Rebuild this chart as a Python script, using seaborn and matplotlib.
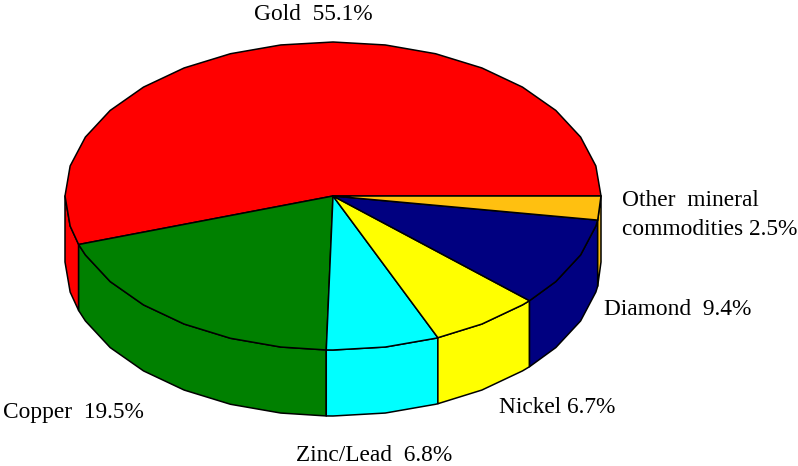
import numpy as np
import matplotlib.pyplot as plt
import seaborn as sns

labels = ["Gold  55.1%", "Copper  19.5%", "Zinc/Lead  6.8%", "Nickel 6.7%", "Diamond  9.4%",
          "Other  mineral\ncommodities 2.5%"]
shares = [55.1, 19.5, 6.8, 6.7, 9.4, 2.5]
colors = ["#ff0000", "#008000", "#00ffff", "#ffff00", "#000080", "#ffc010"]

sns.set_theme(style="white")
plt.rcParams["font.family"] = ["Liberation Serif", "DejaVu Serif"]
palette = sns.color_palette(colors)

# pie geometry in picture pixels
cx, cy = 333, 196
rx, ry = 268, 154
depth = 66
facet = 11.25

# text anchors, left edge and baseline
label_pos = [(254, 20), (3, 418), (296, 461), (499, 413), (604, 315), (622, 235)]

fig = plt.figure(figsize=(7.98, 4.66), dpi=100)
ax = fig.add_axes([0, 0, 1, 1])
ax.set_xlim(0, 798)
ax.set_ylim(466, 0)
ax.axis("off")


def arc(a0, a1):
    inner = np.arange(np.ceil(a0 / facet + 1e-6), np.floor(a1 / facet - 1e-6) + 1) * facet
    deg = np.concatenate([[a0], inner, [a1]])
    t = np.radians(deg)
    return cx + rx * np.cos(t), cy + ry * np.sin(t)


edges = np.cumsum([0] + shares) * 360 / sum(shares)
# y grows downward, so go round the other way to run counter-clockwise on screen
spans = [(360 - b, 360 - a) for a, b in zip(edges[:-1], edges[1:])]

# walls first, only the front half of the rim shows
for (a0, a1), col in zip(spans, palette):
    lo, hi = max(a0, 0), min(a1, 180)
    if lo >= hi:
        continue
    x, y = arc(lo, hi)
    ax.fill(np.r_[x, x[::-1]], np.r_[y, y[::-1] + depth], facecolor=col, edgecolor="black", lw=1.1, joinstyle="round")

for (a0, a1), col in zip(spans, palette):
    x, y = arc(a0, a1)
    ax.fill(np.r_[cx, x], np.r_[cy, y], facecolor=col, edgecolor="black", lw=1.1, joinstyle="round")

for lab, (tx, ty) in zip(labels, label_pos):
    ax.text(tx, ty, lab, fontsize=16.8, color="black", ha="left", va="baseline", linespacing=1.5)

fig.savefig("out.png", dpi=100, facecolor="white")
